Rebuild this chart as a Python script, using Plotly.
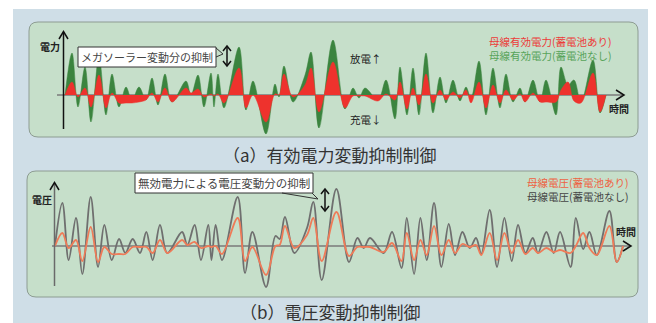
import plotly.graph_objects as go

# ---------------- data ----------------
time_pts = [65, 72, 78, 85, 91, 99, 106, 112, 119, 126, 132, 139, 146, 152, 158,
            165, 172, 186, 191, 198, 204, 211, 214, 218, 224, 239, 246, 253, 266, 275,
            279, 284, 293, 305, 311, 319, 333, 345, 353, 359, 365, 378, 386, 395, 400,
            407, 413, 419, 426, 433, 440, 446, 453, 460, 466, 471, 479, 486, 493, 500,
            506, 513, 520, 525, 533, 540, 546, 556, 561, 568, 574, 581, 593, 600, 606]

# (a) bus active power without battery (green) / with battery (red)
power_no_batt = [0, 42, -12, 28, -27, 39, -20, 21, -12, 8, -5, 8, -5, 17, -10,
                 21, -7, 14, 0, 20, -12, 22, -12, 21, -13, 48, -15, 14, -39, 11,
                 -2, 29, -7, 20, 43, -33, 55, -14, 7, -3, 7, -5, 15, -24, 28,
                 -20, 27, -20, 42, -18, 18, -8, 15, -6, 8, -3, 34, -20, 27, -13,
                 21, -7, 7, -7, 15, -7, 15, -20, 28, 10, 15, -7, 35, -18, 0]
power_batt = [0, 13, -2, 7, -12, 20, -13, 2, -8, -8, -8, -7, -5, 2, -7,
              7, -7, 7, 2, 6, -2, 1, -1, 1, -8, 27, -13, 0, -27, 1,
              0, 21, -2, 10, 27, -17, 33, -13, -1, -1, -1, -6, 1, -5, 13,
              -14, 7, -10, 21, -8, 5, -5, 3, -3, 5, -8, 13, -13, 10, -8,
              5, -5, 1, -7, 2, -7, -7, -7, 5, 13, -6, -8, 22, -17, 0]

# (b) bus voltage without battery (gray) / with battery (orange)
volt_no_batt = [0, 43, -14, 28, -28, 49, -21, 21, -14, 7, -7, 7, -7, 14, -14,
                21, -7, 14, 1, 21, -14, 21, -14, 21, -14, 49, -27, 14, -41, 10,
                7, 29, -7, 18, 44, -34, 57, -16, 8, -2, 8, -7, 14, -22, 28,
                -28, 28, -14, 43, -21, 22, -9, 14, -2, 8, -8, 36, -21, 28, -15,
                21, -7, 8, -7, 14, -7, 14, -21, 28, -3, 14, -9, 35, -16, 0]
volt_batt = [0, 13, -2, 6, -15, 19, -16, -1, -8, -8, -8, -1, -1, -1, -7,
             6, -7, 6, 1, 4, -2, 0, -1, 0, -8, 28, -15, -1, -29, 0,
             1, 20, -2, 11, 28, -15, 34, -10, -1, -1, -1, -6, 3, -15, 13,
             -14, 6, -9, 20, -9, 6, -7, 2, -1, 1, -9, 13, -14, 13, -7,
             6, -8, -2, -7, -2, -6, -4, -7, 0, 13, -2, -9, 20, -16, 0]

title_a = "（a）有効電力変動抑制制御"
title_b = "（b）電圧変動抑制制御"
legend_a = ["母線有効電力(蓄電池あり)", "母線有効電力(蓄電池なし)"]
legend_b = ["母線電圧(蓄電池あり)", "母線電圧(蓄電池なし)"]
callout_a = "メガソーラー変動分の抑制"
callout_b = "無効電力による電圧変動分の抑制"

# ---------------- styling ----------------
W, H = 656, 323
BASE_A = 95     # baseline row of panel (a)
BASE_B = 246    # baseline row of panel (b)
B_X0, B_T0, B_STRETCH = 55, 65, 1.05

GREEN = "#3b843f"
RED = "#ee322d"
GRAY = "#6f6f6f"
ORANGE = "#ef7b58"
BG_BLUE = "#cfdee7"
BG_GREEN = "#c6dfca"
FONT = "Noto Sans CJK JP"


def Y(py):
    return BASE_A - py


fig = go.Figure()
fig.add_trace(go.Scatter(x=time_pts, y=power_no_batt, mode="lines",
                         line=dict(shape="spline", smoothing=1.0, width=0.5, color=GREEN),
                         fill="tozeroy", fillcolor=GREEN, hoverinfo="skip",
                         xaxis="x", yaxis="y"))
fig.add_trace(go.Scatter(x=time_pts, y=power_batt, mode="lines",
                         line=dict(shape="spline", smoothing=1.0, width=0.5, color=RED),
                         fill="tozeroy", fillcolor=RED, hoverinfo="skip",
                         xaxis="x", yaxis="y"))
fig.add_trace(go.Scatter(x=time_pts, y=volt_no_batt, mode="lines",
                         line=dict(shape="spline", smoothing=1.0, width=1.8, color=GRAY),
                         hoverinfo="skip", xaxis="x2", yaxis="y2"))
fig.add_trace(go.Scatter(x=time_pts, y=volt_batt, mode="lines",
                         line=dict(shape="spline", smoothing=1.0, width=1.8, color=ORANGE),
                         hoverinfo="skip", xaxis="x2", yaxis="y2"))


def rrect(x0, y0, x1, y1, r):
    return (f"M {x0+r},{Y(y0)} L {x1-r},{Y(y0)} Q {x1},{Y(y0)} {x1},{Y(y0+r)} "
            f"L {x1},{Y(y1-r)} Q {x1},{Y(y1)} {x1-r},{Y(y1)} L {x0+r},{Y(y1)} "
            f"Q {x0},{Y(y1)} {x0},{Y(y1-r)} L {x0},{Y(y0+r)} Q {x0},{Y(y0)} {x0+r},{Y(y0)} Z")


def poly(pts, closed=False):
    s = "M " + " L ".join(f"{x},{Y(y)}" for x, y in pts)
    return s + (" Z" if closed else "")


shapes = []
# backgrounds
shapes.append(dict(type="rect", xref="x", yref="y", x0=13, x1=648, y0=Y(9), y1=Y(323),
                   fillcolor=BG_BLUE, line=dict(width=0), layer="below"))
shapes.append(dict(type="path", xref="x", yref="y", path=rrect(29, 22, 638, 137, 9),
                   fillcolor=BG_GREEN, line=dict(color="#8d9c92", width=1), layer="below"))
shapes.append(dict(type="path", xref="x", yref="y", path=rrect(27, 171, 638, 297, 9),
                   fillcolor=BG_GREEN, line=dict(color="#8d9c92", width=1), layer="below"))
# baselines
shapes.append(dict(type="line", xref="x", yref="y", x0=57, x1=623, y0=Y(95), y1=Y(95),
                   line=dict(color="#7a7a7a", width=1.5), layer="below"))
shapes.append(dict(type="line", xref="x", yref="y", x0=52, x1=630, y0=Y(246), y1=Y(246),
                   line=dict(color="#7a7a7a", width=1.5), layer="below"))
# vertical axes
shapes.append(dict(type="line", xref="x", yref="y", x0=63.5, x1=63.5, y0=Y(129), y1=Y(32),
                   line=dict(color="#111", width=1.5)))
shapes.append(dict(type="line", xref="x", yref="y", x0=54.5, x1=54.5, y0=Y(286), y1=Y(183),
                   line=dict(color="#6a6a6a", width=1.5)))
# arrow heads
for pts in ([(59, 39), (63.5, 31.5), (68, 39)],
            [(50, 190), (54.5, 182.5), (59, 190)],
            [(616, 90), (624, 95), (616, 100)],
            [(623, 241), (631, 246), (623, 251)]):
    shapes.append(dict(type="path", xref="x", yref="y", path=poly(pts),
                       line=dict(color="#111", width=1.5)))
# double arrows
for cx, ya, yb in ((227, 46, 66), (325, 189, 211)):
    shapes.append(dict(type="line", xref="x", yref="y", x0=cx, x1=cx, y0=Y(ya), y1=Y(yb),
                       line=dict(color="#111", width=1.5)))
    shapes.append(dict(type="path", xref="x", yref="y",
                       path=poly([(cx - 4, ya + 5), (cx, ya), (cx + 4, ya + 5)]),
                       line=dict(color="#111", width=1.5)))
    shapes.append(dict(type="path", xref="x", yref="y",
                       path=poly([(cx - 4, yb - 5), (cx, yb), (cx + 4, yb - 5)]),
                       line=dict(color="#111", width=1.5)))
# callout boxes
shapes.append(dict(type="rect", xref="x", yref="y", x0=78, x1=216, y0=Y(47), y1=Y(67),
                   fillcolor="white", line=dict(color="#333", width=1)))
shapes.append(dict(type="path", xref="x", yref="y",
                   path=poly([(216, 48), (223, 54), (216, 57)]),
                   line=dict(color="#333", width=1)))
shapes.append(dict(type="rect", xref="x", yref="y", x0=135, x1=313, y0=Y(173), y1=Y(193),
                   fillcolor="white", line=dict(color="#333", width=1)))
shapes.append(dict(type="path", xref="x", yref="y",
                   path=poly([(282, 193), (318, 199), (312, 193)]),
                   line=dict(color="#333", width=1)))

annotations = []


def txt(s, x, y, size, color, xanchor="center", bold=False, align="center"):
    annotations.append(dict(text=("<b>%s</b>" % s) if bold else s, x=x, y=Y(y),
                            xref="x", yref="y", showarrow=False, xanchor=xanchor,
                            yanchor="middle", align=align, borderpad=0,
                            font=dict(family=FONT, size=size, color=color)))


txt("電力", 50, 46, 10, "#222", bold=True)
txt("時間", 619, 108, 10, "#222", bold=True)
txt("放電↑", 366, 58, 10.5, "#222")
txt("充電↓", 366, 119, 10.5, "#222")
txt('<span style="color:#ec3b38">%s</span><br><span style="color:#58a45a">%s</span>'
    % (legend_a[0], legend_a[1]), 613, 48, 10.5, "#58a45a", xanchor="right", align="right")
txt(callout_a, 147, 57, 11, "#444")
txt(title_a, 330, 154, 17, "#333")
txt("電圧", 42, 199, 10, "#222", bold=True)
txt("時間", 626, 231, 10, "#222", bold=True)
txt('<span style="color:#ee6242">%s</span><br><span style="color:#444">%s</span>'
    % (legend_b[0], legend_b[1]), 630, 189.5, 10.5, "#444", xanchor="right", align="right")
txt(callout_b, 224, 183, 11.5, "#444")
txt(title_b, 330, 311, 17, "#333")

b_left = B_T0 - B_X0 / B_STRETCH
b_right = B_T0 + (W - B_X0) / B_STRETCH

fig.update_layout(
    width=W, height=H, margin=dict(l=0, r=0, t=0, b=0),
    paper_bgcolor="white", plot_bgcolor="rgba(0,0,0,0)", showlegend=False,
    xaxis=dict(range=[0, W], domain=[0, 1], visible=False, fixedrange=True),
    yaxis=dict(range=[BASE_A - H, BASE_A], domain=[0, 1], visible=False, fixedrange=True),
    xaxis2=dict(range=[b_left, b_right], overlaying="x", visible=False, fixedrange=True),
    yaxis2=dict(range=[BASE_B - H, BASE_B], overlaying="y", visible=False, fixedrange=True),
    shapes=shapes, annotations=annotations,
)

fig.write_html("out.html")
